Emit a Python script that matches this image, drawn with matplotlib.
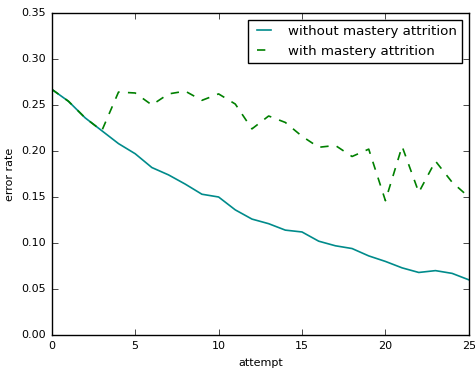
import matplotlib
matplotlib.use("Agg")
import matplotlib.pyplot as plt
import numpy as np

plt.style.use('classic')

# error rate per attempt
attempts = np.arange(26)
without_attrition = [0.267, 0.254, 0.236, 0.222, 0.208, 0.197, 0.182, 0.174, 0.164, 0.153,
                     0.150, 0.136, 0.126, 0.121, 0.114, 0.112, 0.102, 0.097, 0.094, 0.086,
                     0.080, 0.073, 0.068, 0.070, 0.067, 0.060]
with_attrition = [0.267, 0.254, 0.236, 0.222, 0.264, 0.263, 0.250, 0.262, 0.265, 0.255,
                  0.262, 0.251, 0.224, 0.238, 0.231, 0.216, 0.204, 0.206, 0.194, 0.202,
                  0.146, 0.205, 0.155, 0.189, 0.166, 0.150]

fig = plt.figure(figsize=(4.75, 3.69), dpi=100, facecolor='white')
ax = fig.add_axes([0.109, 0.092, 0.878, 0.873])

ax.plot(attempts, without_attrition, '-', color='#008b8b', linewidth=1.2, label='without mastery attrition')
ax.plot(attempts, with_attrition, '--', color='#008000', linewidth=1.2, label='with mastery attrition')

ax.set_xlim(0, 25)
ax.set_ylim(0, 0.35)
ax.set_xticks([0, 5, 10, 15, 20, 25])
ax.set_yticks(np.arange(0, 0.36, 0.05))
ax.set_yticklabels(['%.2f' % v for v in np.arange(0, 0.36, 0.05)])
ax.tick_params(labelsize=8)
ax.set_xlabel('attempt', fontsize=8)
ax.set_ylabel('error rate', fontsize=8)

leg = ax.legend(loc='upper right', fontsize=9.6, handlelength=1.6, handletextpad=1.0)

fig.savefig('out.png', dpi=100)
